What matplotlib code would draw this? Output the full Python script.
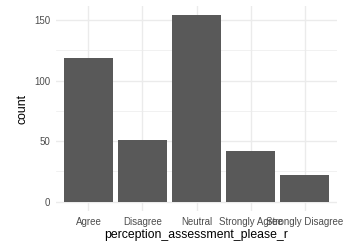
import numpy as np
import matplotlib
matplotlib.use("Agg")
import matplotlib.pyplot as plt

categories = ["Agree", "Disagree", "Neutral", "Strongly Agree", "Strongly Disagree"]
counts = [119, 51, 154, 42, 22]
y_ticks = [0, 50, 100, 150]

plt.rcParams["font.family"] = ["Liberation Sans", "DejaVu Sans"]

fig = plt.figure(figsize=(3.54, 2.48), dpi=100)
ax = fig.add_axes([56 / 354, 37 / 248, 281 / 354, 205 / 248])

x = np.arange(len(categories))
ax.bar(x, counts, width=0.9, color="#595959", zorder=3)

ax.set_xlim(-0.6, len(categories) - 0.4)
ax.set_ylim(-0.05 * max(counts), 1.05 * max(counts))

ax.set_xticks(x)
ax.set_xticklabels(categories)
ax.set_yticks(y_ticks)
ax.set_yticks([25, 75, 125], minor=True)

ax.grid(True, which="major", color="#ebebeb", linewidth=1.0, zorder=0)
ax.grid(True, which="minor", axis="y", color="#ebebeb", linewidth=0.5, zorder=0)
ax.set_axisbelow(True)

for s in ax.spines.values():
    s.set_visible(False)
ax.tick_params(which="both", length=0, labelsize=7, labelcolor="#4d4d4d", pad=4)

ax.set_xlabel("perception_assessment_please_r", fontsize=8.8, color="black", labelpad=2)
ax.set_ylabel("count", fontsize=8.8, color="black", labelpad=4)

fig.savefig("out.png", dpi=100)
